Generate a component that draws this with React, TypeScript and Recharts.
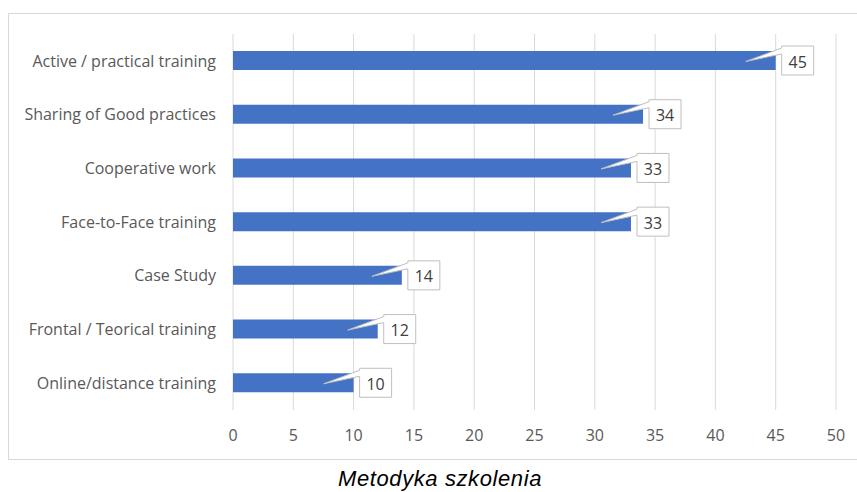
import React from "react";
import { BarChart, Bar, XAxis, YAxis, CartesianGrid, LabelList } from "recharts";

const categories = [
  "Active / practical training",
  "Sharing of Good practices",
  "Cooperative work",
  "Face-to-Face training",
  "Case Study",
  "Frontal / Teorical training",
  "Online/distance training",
];
const counts = [45, 34, 33, 33, 14, 12, 10];
const xTicks = [0, 5, 10, 15, 20, 25, 30, 35, 40, 45, 50];

const data = categories.map((name, i) => ({ name, count: counts[i] }));

const FONT = "'Open Sans', 'Liberation Sans', sans-serif";

// white callout box with a little wedge pointing back into the bar
function Callout(props: any) {
  const { x, y, width, height, value } = props;
  const endX = x + width;
  const cy = y + height / 2;
  const bw = 32;
  const bh = 29;
  const bx = endX + 6;
  const by = cy - bh / 2;
  const tipX = endX - 30;
  const tipY = cy + 1;
  const d = `M${bx},${by} L${bx + bw},${by} L${bx + bw},${by + bh} L${bx},${by + bh} L${bx},${by + 8} L${tipX},${tipY} L${bx},${by + 2} Z`;
  return (
    <g>
      <path d={d} fill="#ffffff" stroke="#bfbfbf" strokeWidth={1} />
      <text
        x={bx + bw / 2}
        y={by + bh / 2 + 1}
        textAnchor="middle"
        dominantBaseline="central"
        fontSize={16}
        fontFamily={FONT}
        fill="#404040"
      >
        {value}
      </text>
    </g>
  );
}

export default function App() {
  return (
    <div style={{ position: "absolute", left: 0, top: 0, width: 857, height: 492, background: "#fff", overflow: "hidden" }}>
      <div
        style={{
          position: "absolute",
          left: 8,
          top: 13,
          width: 870,
          height: 447,
          border: "1px solid #d9d9d9",
          boxSizing: "border-box",
        }}
      />
      <div style={{ position: "absolute", left: 0, top: 0 }}>
        <BarChart
          width={857}
          height={460}
          data={data}
          layout="vertical"
          margin={{ top: 34, right: 21, bottom: 10, left: 0 }}
        >
          <CartesianGrid horizontal={false} stroke="#d9d9d9" />
          <XAxis
            type="number"
            domain={[0, 50]}
            ticks={xTicks}
            axisLine={false}
            tickLine={false}
            tickSize={0}
            tickMargin={20}
            height={40}
            tick={{ fill: "#595959", fontSize: 16, fontFamily: FONT }}
            interval={0}
          />
          <YAxis
            type="category"
            dataKey="name"
            width={233}
            axisLine={false}
            tickLine={false}
            tickSize={0}
            tickMargin={17}
            tick={{ fill: "#595959", fontSize: 16, fontFamily: FONT }}
            interval={0}
          />
          <Bar dataKey="count" fill="#4472c4" barSize={19} isAnimationActive={false}>
            <LabelList dataKey="count" content={<Callout />} />
          </Bar>
        </BarChart>
      </div>
      <div
        style={{
          position: "absolute",
          left: 0,
          width: 880,
          top: 466,
          textAlign: "center",
          fontFamily: "'Liberation Sans', Arial, sans-serif",
          fontStyle: "italic",
          fontSize: 22,
          letterSpacing: 0.6,
          color: "#000",
          lineHeight: "26px",
        }}
      >
        Metodyka szkolenia
      </div>
    </div>
  );
}
